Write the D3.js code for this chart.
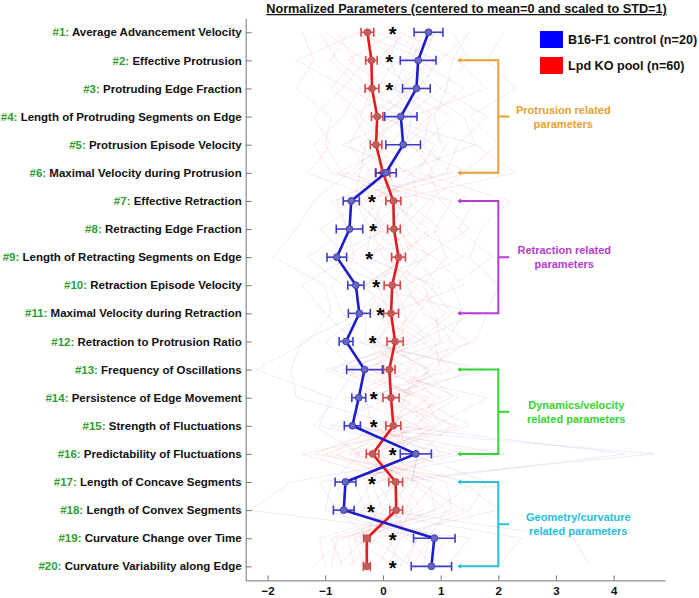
<!DOCTYPE html>
<html><head><meta charset="utf-8">
<script src="https://cdn.jsdelivr.net/npm/d3@7"></script>
<style>body{margin:0;background:#fff}svg{display:block}text{font-family:"Liberation Sans",Arial,sans-serif;font-weight:bold}</style>
</head><body><svg id="c" width="699" height="598"></svg>
<script>
const params = ["Average Advancement Velocity","Effective Protrusion","Protruding Edge Fraction","Length of Protruding Segments on Edge","Protrusion Episode Velocity","Maximal Velocity during Protrusion","Effective Retraction","Retracting Edge Fraction","Length of Retracting Segments on Edge","Retraction Episode Velocity","Maximal Velocity during Retraction","Retraction to Protrusion Ratio","Frequency of Oscillations","Persistence of Edge Movement","Strength of Fluctuations","Predictability of Fluctuations","Length of Concave Segments","Length of Convex Segments","Curvature Change over Time","Curvature Variability along Edge"];
const blueMean = [0.79,0.61,0.58,0.31,0.35,0.05,-0.55,-0.58,-0.80,-0.47,-0.41,-0.64,-0.32,-0.42,-0.53,0.57,-0.65,-0.68,0.89,0.84];
const blueErr  = [0.25,0.31,0.24,0.28,0.30,0.18,0.14,0.23,0.17,0.14,0.19,0.12,0.31,0.12,0.14,0.27,0.18,0.18,0.36,0.35];
const redMean  = [-0.27,-0.20,-0.19,-0.10,-0.12,0.00,0.18,0.19,0.27,0.16,0.14,0.21,0.11,0.14,0.18,-0.18,0.22,0.23,-0.28,-0.28];
const redErr   = [0.11,0.10,0.12,0.10,0.10,0.12,0.13,0.11,0.12,0.14,0.13,0.14,0.10,0.14,0.13,0.11,0.12,0.11,0.055,0.06];
const starX    = [0.17,0.11,0.11,null,null,null,-0.19,-0.17,-0.24,-0.12,-0.05,-0.18,null,-0.16,-0.16,0.17,-0.19,-0.21,0.17,0.17];
const xTicks = [-2,-1,0,1,2,3,4];
const legendLabels = ["B16-F1 control (n=20)","Lpd KO pool (n=60)"];
const groups = [
  {from:2,to:6,lines:["Protrusion related","parameters"],color:"#E8A032"},
  {from:7,to:11,lines:["Retraction related","parameters"],color:"#B43CD2"},
  {from:13,to:16,lines:["Dynamics/velocity","related parameters"],color:"#35D435"},
  {from:17,to:20,lines:["Geometry/curvature","related parameters"],color:"#28BEE0"}
];
// faint individual-cell profiles (hand-estimated)
const redCells = [
 [-0.8,-0.5,-0.9,-0.3,-0.6,-0.2,0.5,0.3,0.6,0.2,0.4,0.3,-0.2,0.5,0.2,-0.6,0.6,0.4,-0.5,-0.3],
 [0.6,0.4,0.8,0.2,0.5,0.9,-0.3,0.1,-0.2,0.6,0.2,-0.1,0.8,0.3,0.9,0.2,0.1,0.5,0.2,-0.1],
 [-1.4,-1.2,-1.5,-0.9,-1.0,-0.7,1.2,0.9,1.1,0.7,0.9,1.0,0.4,0.9,0.6,-0.5,1.1,1.2,-0.8,-0.9],
 [1.2,1.5,1.0,1.8,1.3,1.1,-0.5,-0.2,0.4,-0.3,0.0,0.5,-0.6,-0.1,0.3,0.4,-0.3,-0.2,0.1,0.3],
 [-0.2,0.3,-0.4,0.6,0.1,-0.5,0.2,0.6,-0.3,0.9,0.5,0.1,0.2,1.3,0.5,-1.0,0.4,0.2,-0.6,-0.5],
 [0.2,-0.6,0.1,-0.5,-0.2,0.4,1.6,1.3,1.9,1.2,1.4,1.1,-0.4,0.6,1.5,-0.3,0.8,0.9,-0.4,-0.2],
 [-0.5,0.8,0.3,1.2,0.7,0.2,-0.1,-0.4,0.2,0.3,-0.2,0.7,1.2,-0.3,-0.2,0.9,-0.5,-0.3,0.6,0.4],
 [2.1,1.8,2.3,1.5,2.0,1.4,0.8,0.3,0.5,1.0,0.6,0.2,0.6,0.4,0.0,0.5,1.8,1.5,0.3,0.1],
 [-1.0,-0.3,-0.7,-1.2,-0.9,-1.3,0.0,0.4,0.8,-0.4,0.3,0.9,1.0,0.2,0.8,-0.8,0.3,0.7,-0.9,-0.7],
 [0.4,-0.1,0.5,0.0,0.9,0.6,2.2,1.7,1.5,2.0,1.8,1.6,0.0,1.0,0.4,0.1,-0.2,0.0,-0.2,-0.4],
 [-0.3,0.2,-0.1,0.4,-0.4,0.1,-0.8,-0.6,-0.5,-0.9,-0.7,-0.4,0.5,-0.5,-0.4,1.4,-0.8,-0.6,1.1,0.8],
 [0.9,0.6,1.4,0.8,0.3,-0.3,0.4,1.0,0.1,0.5,1.1,0.4,-0.9,0.7,1.0,-0.2,1.4,2.0,-0.1,-0.6],
 [-0.6,-0.9,-0.4,-0.7,-1.2,-0.9,0.9,0.6,1.4,0.4,0.7,1.5,0.7,1.2,-0.1,-0.9,0.9,0.5,-1.1,-1.0],
 [0.1,0.9,0.2,0.9,0.4,1.5,-0.4,0.0,-0.6,0.1,-0.3,-0.3,1.6,0.3,1.2,0.6,0.5,1.1,0.8,0.5],
 [-1.1,-0.8,-0.2,-0.4,0.2,-0.8,0.3,-0.2,0.0,0.8,1.2,0.6,-0.3,1.8,0.9,-1.4,0.2,-0.1,-0.3,-0.8],
 [1.5,1.0,0.6,1.4,1.6,2.3,0.1,0.8,0.3,-0.1,0.1,-0.2,0.3,-0.6,0.6,1.0,-0.1,0.2,0.4,0.9],
 [-0.4,-1.5,-0.6,0.3,-0.7,0.5,0.6,-0.1,0.9,1.4,0.1,0.8,-0.7,0.8,0.1,-1.2,1.6,0.9,-0.7,-1.2],
 [0.3,1.3,1.8,0.5,1.1,0.8,1.0,1.5,0.7,0.3,0.8,1.2,0.9,-0.2,1.3,-0.5,0.6,1.4,-0.5,0.2]
];
const blueCells = [
 [0.3,0.1,0.4,-0.2,0.0,-0.6,-1.2,-1.5,-1.9,-1.0,-0.9,-1.3,-2.2,-0.9,-1.1,1.2,-1.6,-2.3,1.5,1.1],
 [1.5,1.2,1.1,0.9,1.0,0.5,0.0,-0.2,-0.3,0.2,0.3,-0.1,0.8,0.4,0.2,4.2,0.3,-0.4,2.4,2.0],
 [0.9,0.4,0.2,0.8,0.7,1.2,-0.9,-0.6,-1.3,-0.7,-0.3,-1.0,-0.5,-0.8,-1.2,-0.4,-0.9,-1.0,0.6,0.3],
 [-0.1,0.9,0.7,-0.1,1.6,0.3,-0.3,-1.1,-0.6,-1.4,-1.0,-0.5,1.8,-0.2,-0.7,2.1,-1.1,-0.8,-0.2,0.5],
 [0.7,0.5,1.0,0.4,-0.3,-0.4,-0.5,0.1,-1.0,0.0,-0.4,-1.4,-1.6,-1.5,0.3,0.6,0.5,0.0,3.3,3.6],
 [0.9,0.7,0.2,0.5,0.4,0.1,0.3,0.2,0.4,-0.3,1.6,0.6,-1.0,0.1,-0.9,4.7,-0.2,-0.5,0.8,0.7]
];

const svg = d3.select("#c");
const x = d3.scaleLinear().domain([-2.38,4.89]).range([245.7,665]);
const y = d3.scaleLinear().domain([0.5,20.5]).range([18.2,580.4]);
const idx = d3.range(1,21);
const line = d3.line().x(d=>x(d[0])).y(d=>y(d[1]));
const prof = v => v.map((d,i)=>[d,i+1]);

// faint cell lines
svg.append("g").selectAll("path").data(redCells).join("path")
  .attr("d",d=>line(prof(d))).attr("fill","none").attr("stroke","#e86a6a").attr("stroke-width",0.7).attr("stroke-opacity",0.22);
svg.append("g").selectAll("path").data(blueCells).join("path")
  .attr("d",d=>line(prof(d))).attr("fill","none").attr("stroke","#7a7ae0").attr("stroke-width",0.7).attr("stroke-opacity",0.22);

// axes
const xAxis = svg.append("g").attr("transform",`translate(0,${y(20.5)})`)
  .call(d3.axisBottom(x).tickValues(xTicks).tickSizeInner(-5).tickSizeOuter(0).tickPadding(6).tickFormat(d3.format("d")));
xAxis.select(".domain").attr("stroke","#777");
xAxis.selectAll(".tick line").attr("stroke","#777");
xAxis.selectAll("text").attr("font-size",11.5).attr("fill","#111").style("font-family","Liberation Sans").style("font-weight","bold");

const yAxis = svg.append("g").attr("transform",`translate(${x(-2.38)},0)`)
  .call(d3.axisLeft(y).tickValues(idx).tickSizeInner(-6).tickSizeOuter(0).tickFormat(""));
yAxis.select(".domain").attr("stroke","#777");
yAxis.selectAll(".tick line").attr("stroke","#777");
const lab = svg.append("g").selectAll("text").data(params).join("text")
  .attr("x",x(-2.38)-4).attr("y",(d,i)=>y(i+1)).attr("dy","0.36em")
  .attr("text-anchor","end").attr("font-size",11.5).attr("fill","#111");
lab.append("tspan").attr("fill","#2ea02e").text((d,i)=>`#${i+1}: `);
lab.append("tspan").text(d=>d);

// error bars + lines
function series(mean, err, lineCol, barCol, fillCol){
  const g = svg.append("g");
  const eb = g.selectAll("g").data(mean).join("g").attr("stroke",barCol).attr("stroke-width",1.6);
  eb.append("line").attr("x1",(d,i)=>x(d-err[i])).attr("x2",(d,i)=>x(d+err[i])).attr("y1",(d,i)=>y(i+1)).attr("y2",(d,i)=>y(i+1));
  eb.append("line").attr("x1",(d,i)=>x(d-err[i])).attr("x2",(d,i)=>x(d-err[i])).attr("y1",(d,i)=>y(i+1)-4.5).attr("y2",(d,i)=>y(i+1)+4.5);
  eb.append("line").attr("x1",(d,i)=>x(d+err[i])).attr("x2",(d,i)=>x(d+err[i])).attr("y1",(d,i)=>y(i+1)-4.5).attr("y2",(d,i)=>y(i+1)+4.5);
  g.append("path").attr("d",line(prof(mean))).attr("fill","none").attr("stroke",lineCol).attr("stroke-width",2.6);
  g.selectAll("circle").data(mean).join("circle").attr("cx",d=>x(d)).attr("cy",(d,i)=>y(i+1)).attr("r",3.4)
    .attr("fill",fillCol).attr("stroke",barCol).attr("stroke-width",1);
}
series(redMean, redErr, "#e01c1c", "#d84444", "#bb6060");
series(blueMean, blueErr, "#1c1cc8", "#3c3cc8", "#6868b8");

// stars
svg.append("g").selectAll("text").data(starX.map((v,i)=>[v,i+1]).filter(d=>d[0]!==null)).join("text")
  .attr("x",d=>x(d[0])).attr("y",d=>y(d[1])+8.5).attr("text-anchor","middle").attr("font-size",20).attr("fill","#000").text("*");

// title
svg.append("text").attr("x",466.5).attr("y",13).attr("text-anchor","middle").attr("font-size",12.7)
  .attr("text-decoration","underline").attr("fill","#111").text("Normalized Parameters (centered to mean=0 and scaled to STD=1)");

// legend
const leg = svg.append("g").selectAll("g").data(legendLabels).join("g").attr("transform",(d,i)=>`translate(540,${31+i*26})`);
leg.append("rect").attr("width",23).attr("height",17).attr("fill",(d,i)=>i?"#ff0000":"#0000ff");
leg.append("text").attr("x",28).attr("y",8.5).attr("dy","0.36em").attr("font-size",12.6).attr("fill","#111").text(d=>d);

// group brackets
const bx = x(2.0), lx = x(1.32), mx = x(2.19);
const textOff = [54, 55, 67, 69];
groups.forEach((gp,gi)=>{
  const g = svg.append("g").attr("stroke",gp.color).attr("stroke-width",2).attr("fill","none");
  const y1 = y(gp.from), y2 = y(gp.to), ym=(y1+y2)/2;
  g.append("path").attr("d",`M${lx},${y1}H${bx}V${y2}H${lx}M${bx},${ym}H${mx}`);
  [y1,y2].forEach(yy=>svg.append("path").attr("d",`M${lx-2},${yy}l4,-2.5v5z`).attr("fill",gp.color));
  const t = svg.append("text").attr("text-anchor","middle").attr("font-size",11).attr("fill",gp.color)
    .attr("x",mx+textOff[gi]).attr("y",ym-3);
  gp.lines.forEach((l,k)=>t.append("tspan").attr("x",mx+textOff[gi]).attr("dy",k?14:0).text(l));
});
</script></body></html>
